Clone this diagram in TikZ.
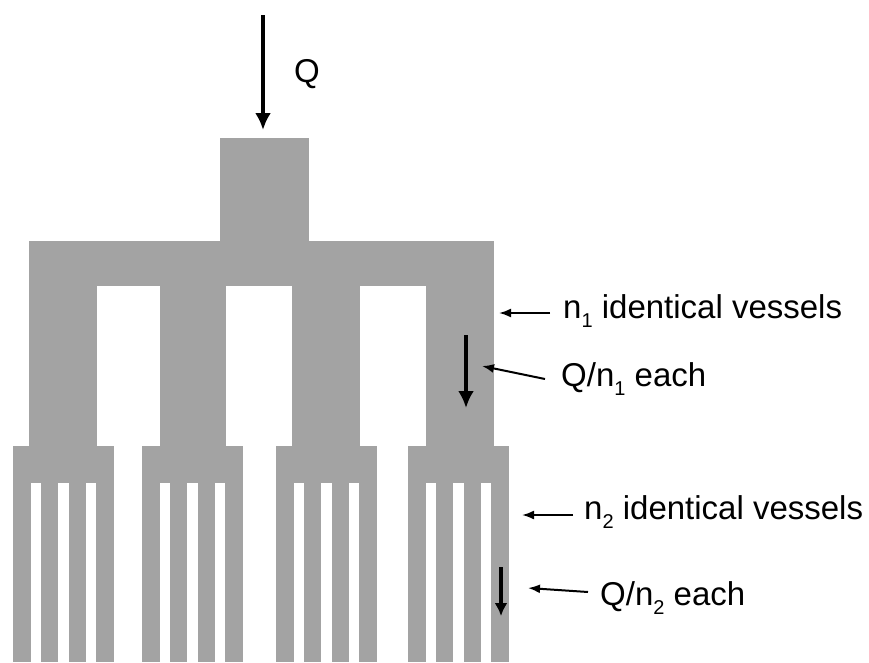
\documentclass[tikz,border=0pt]{standalone}
\usepackage{fontspec}
\setmainfont{Liberation Sans}
\usetikzlibrary{arrows.meta}
\definecolor{vgray}{HTML}{A3A3A3}
\newcommand\vsub[1]{\raisebox{-9pt}{\fontsize{20}{20}\selectfont #1}}
\begin{document}
\begin{tikzpicture}[x=1pt,y=-1pt,
  vessel/.style={fill=vgray, draw=none},
  flow/.style={line width=4pt, -{Latex[length=17pt,width=16pt]}},
  smallflow/.style={line width=3.5pt, -{Latex[length=13pt,width=13pt]}},
  pointer/.style={line width=2pt, -{Latex[length=12pt,width=9pt]}},
  lbl/.style={inner sep=0pt, anchor=base west, font=\fontsize{33}{39}\selectfont}]
\useasboundingbox (0,0) rectangle (869,662);
% trunk and first level
\fill[vessel] (220,138) rectangle (309,242);
\fill[vessel] (29,241) rectangle (494,286);
\foreach \a/\b in {29/97,160/226,292/360,426/494}
  \fill[vessel] (\a,285) rectangle (\b,447);
% second level
\foreach \a in {13,142,276,408}{
  \fill[vessel] (\a,446) rectangle ({\a+101},483);
  \foreach \k in {0,1,2,3}
    \fill[vessel] ({\a+\k*27.83},482) rectangle ({\a+\k*27.83+17.5},662);
}
% flow arrows
\coordinate (qs) at (263,15);
\coordinate (qe) at (263,130);
\draw[flow] (qs) -- (qe);
\coordinate (f1s) at (466,335);
\coordinate (f1e) at (466,408);
\draw[flow] (f1s) -- (f1e);
\coordinate (f2s) at (501,567);
\coordinate (f2e) at (501,616);
\draw[smallflow] (f2s) -- (f2e);
% labels
\node[lbl] (q) at (294,82) {Q};
\node[lbl] (t1) at (563,318) {n\vsub{1} identical vessels};
\node[lbl] (t2) at (561,386) {Q/n\vsub{1} each};
\node[lbl] (t3) at (584,519) {n\vsub{2} identical vessels};
\node[lbl] (t4) at (600,605) {Q/n\vsub{2} each};
% pointers
\coordinate (p1s) at (550,313);
\coordinate (p1e) at (499,313);
\draw[pointer] (p1s) -- (p1e);
\coordinate (p2s) at (545,379);
\coordinate (p2e) at (482,366);
\draw[pointer] (p2s) -- (p2e);
\coordinate (p3s) at (573,515);
\coordinate (p3e) at (522,515);
\draw[pointer] (p3s) -- (p3e);
\coordinate (p4s) at (588,592);
\coordinate (p4e) at (528,588);
\draw[pointer] (p4s) -- (p4e);
\end{tikzpicture}
\end{document}
